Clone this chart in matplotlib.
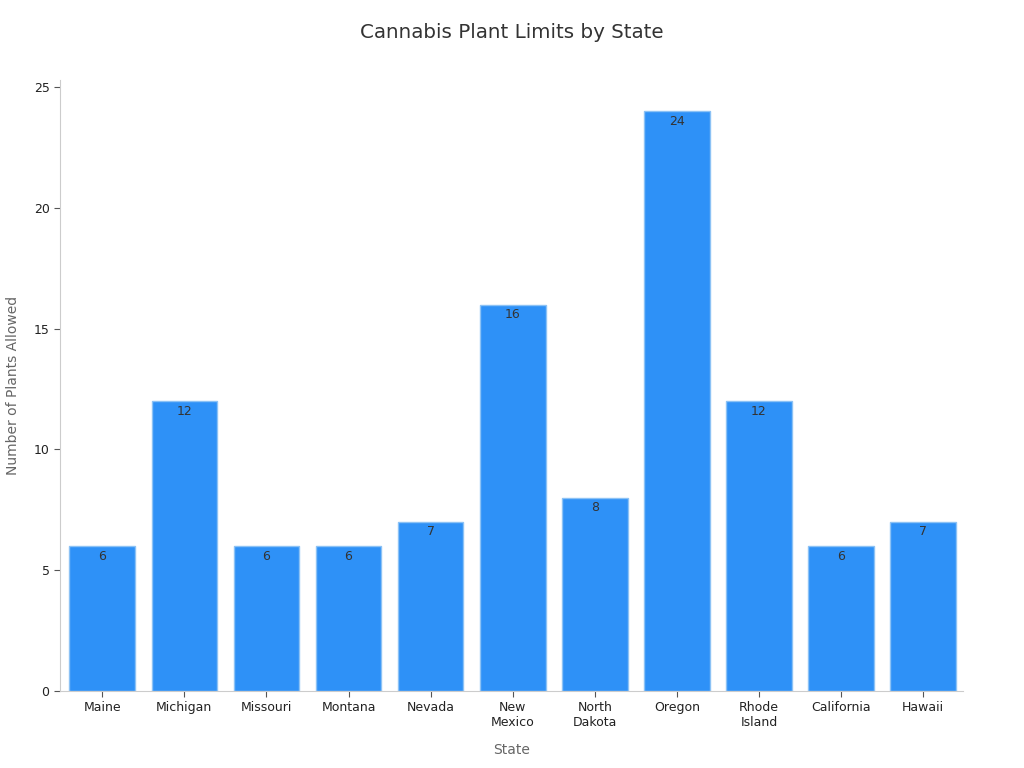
import matplotlib
matplotlib.use("Agg")
import matplotlib.pyplot as plt

states = ["Maine", "Michigan", "Missouri", "Montana", "Nevada", "New\nMexico",
          "North\nDakota", "Oregon", "Rhode\nIsland", "California", "Hawaii"]
plants = [6, 12, 6, 6, 7, 16, 8, 24, 12, 6, 7]

plt.rcParams['font.family'] = ['DejaVu Sans']
fig = plt.figure(figsize=(10.24, 7.68), dpi=100)
ax = fig.add_axes([0.0586, 0.1003, 0.8818, 0.7955])

x = range(len(states))
bars = ax.bar(x, plants, width=0.8, color="#2E91F7", edgecolor="#8CC2F5", linewidth=1)
for xi, v in zip(x, plants):
    ax.annotate(str(v), (xi, v), xytext=(0, -2.5), textcoords="offset points",
                ha="center", va="top", fontsize=9, color="#333333")

ax.set_xlim(-0.515, 10.485)
ax.set_ylim(0, 25.3)
ax.set_yticks([0, 5, 10, 15, 20, 25])
ax.set_xticks(list(x))
ax.set_xticklabels(states, fontsize=9, color="#222222")
ax.tick_params(axis="y", labelsize=9, labelcolor="#222222", color="#555555", length=4)
ax.tick_params(axis="x", color="#555555", length=4)
for s in ["top", "right"]:
    ax.spines[s].set_visible(False)
for s in ["left", "bottom"]:
    ax.spines[s].set_color("#CCCCCC")
ax.set_xlabel("State", fontsize=10, color="#666666", labelpad=10)
ax.set_ylabel("Number of Plants Allowed", fontsize=10, color="#666666", labelpad=10)
fig.suptitle("Cannabis Plant Limits by State", fontsize=14.3, color="#333333", y=0.97)

fig.savefig("out.png", dpi=100)
